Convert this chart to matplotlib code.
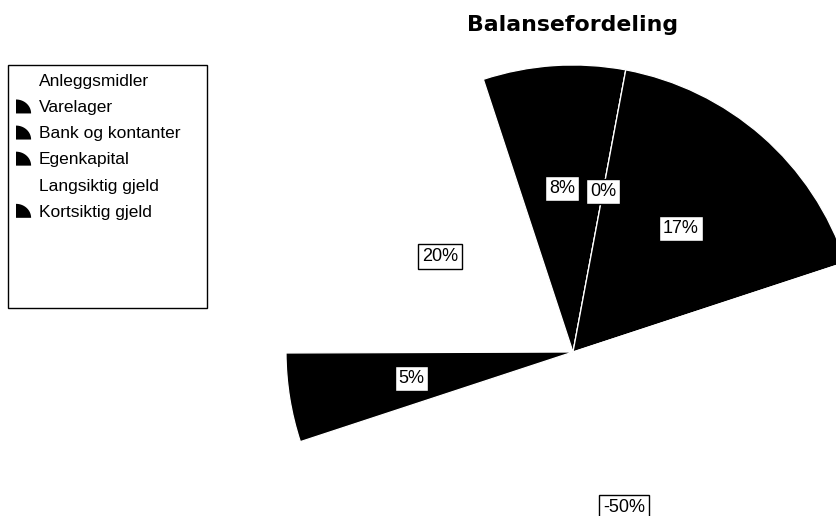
import numpy as np
import matplotlib
matplotlib.use("Agg")
import matplotlib.pyplot as plt
from matplotlib.patches import Polygon, Rectangle, Wedge
from matplotlib.legend_handler import HandlerBase

# data
poster = ["Anleggsmidler", "Varelager", "Bank og kontanter", "Egenkapital",
          "Langsiktig gjeld", "Kortsiktig gjeld"]
andel = [20, 8, 0, 17, -50, 5]
farger = ["white", "black", "black", "black", "white", "black"]

plt.rcParams['font.family'] = ['Liberation Sans', 'DejaVu Sans']


class HandlerQuarter(HandlerBase):
    # small quarter-pie icon like in the original legend
    def create_artists(self, legend, orig_handle, xdescent, ydescent,
                       width, height, fontsize, trans):
        w = width
        h = height * 1.15
        y0 = -ydescent - height * 0.1
        t = np.linspace(0, np.pi / 2, 20)
        pts = [(0, y0)] + [(w * np.cos(a), y0 + h * np.sin(a)) for a in t[::-1]]
        p = Polygon(pts, closed=True, facecolor=orig_handle.get_facecolor(),
                    edgecolor='none', transform=trans)
        return [p]


fig = plt.figure(figsize=(8.36, 5.16), dpi=100)
W, H = 836, 516
cx, cy, r = 573, 516 - 352, 287
ax = fig.add_axes([(cx - r) / W, (cy - r) / H, 2 * r / W, 2 * r / H])

wedges, texts, autotexts = ax.pie(
    [abs(v) for v in andel], colors=farger, startangle=180.2, counterclock=False,
    autopct='%1.0f%%', pctdistance=0.57,
    wedgeprops=dict(edgecolor='white', linewidth=0.9),
    textprops=dict(fontsize=13, color='black'))
for t, v in zip(autotexts, andel):
    t.set_text(f"{v}%")
    t.set_bbox(dict(boxstyle='square,pad=0.22', facecolor='white',
                    edgecolor='black', linewidth=1))
ax.set_xlim(-1, 1)
ax.set_ylim(-1, 1)
ax.set_aspect('equal')

fig.text(cx / W, (516 - 31) / H, "Balansefordeling", ha='center', va='baseline',
         fontsize=15.8, fontweight='bold', family='DejaVu Sans')

# legend box
fig.patches.append(Rectangle((8 / W, (516 - 308) / H), 199 / W, 243 / H,
                             transform=fig.transFigure, facecolor='white',
                             edgecolor='black', linewidth=1, zorder=0))
fig.legend(wedges, poster, loc='upper left', bbox_to_anchor=(16 / W, (516 - 74) / H),
           frameon=False, fontsize=12.5, handlelength=0.87, handleheight=0.7,
           handletextpad=0.45, labelspacing=0.63, borderpad=0, borderaxespad=0,
           handler_map={Wedge: HandlerQuarter()})

fig.savefig("out.png", dpi=100)
